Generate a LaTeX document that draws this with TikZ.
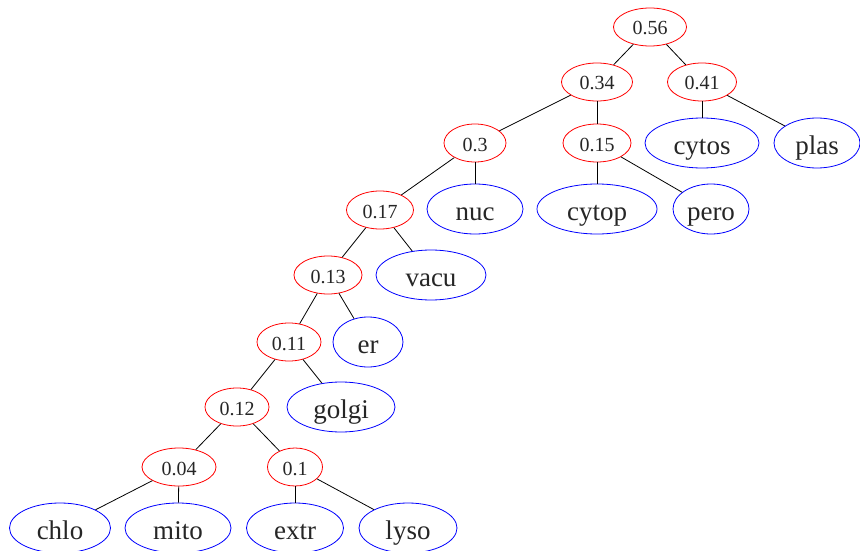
\documentclass[tikz,border=0pt]{standalone}
\usepackage{fontspec}
\setmainfont{Liberation Serif}
\usetikzlibrary{shapes.geometric}
\begin{document}
\begin{tikzpicture}[x=1pt,y=-1pt,
  inner/.style={ellipse,draw=red,line width=0.8pt,inner sep=0pt,minimum height=38pt,text height=16pt,text depth=0pt,font=\fontsize{20}{22}\selectfont,text=black!85},
  leaf/.style={ellipse,draw=blue,line width=0.8pt,inner sep=0pt,minimum height=50pt,text height=22pt,text depth=0pt,font=\fontsize{27}{29}\selectfont,text=black!85},
  edge/.style={draw=black,line width=0.8pt}]
\useasboundingbox (0,0) rectangle (860,551);
\node[inner,minimum width=73pt] (n056) at (650,27) {0.56};
\node[inner,minimum width=71pt] (n034) at (597,82) {0.34};
\node[inner,minimum width=69pt] (n041) at (702,82) {0.41};
\node[inner,minimum width=62pt] (n03) at (475,143) {0.3};
\node[inner,minimum width=68pt] (n015) at (597,143) {0.15};
\node[leaf,minimum width=114pt] (cytos) at (702,143) {cytos};
\node[leaf,minimum width=86pt] (plas) at (817,143) {plas};
\node[inner,minimum width=67pt] (n017) at (380,210) {0.17};
\node[leaf,minimum width=96pt] (nuc) at (475,209) {nuc};
\node[leaf,minimum width=120pt] (cytop) at (597,209) {cytop};
\node[leaf,minimum width=76pt] (pero) at (711,209) {pero};
\node[inner,minimum width=68pt] (n013) at (328,275) {0.13};
\node[leaf,minimum width=110pt] (vacu) at (431,275) {vacu};
\node[inner,minimum width=64pt] (n011) at (289,342) {0.11};
\node[leaf,minimum width=70pt] (er) at (368,342) {er};
\node[inner,minimum width=64pt] (n012) at (237,407) {0.12};
\node[leaf,minimum width=108pt] (golgi) at (341,407) {golgi};
\node[inner,minimum width=74pt] (n004) at (179,467) {0.04};
\node[inner,minimum width=55pt] (n01) at (295,467) {0.1};
\node[leaf,minimum width=101pt] (chlo) at (60,528) {chlo};
\node[leaf,minimum width=106pt] (mito) at (178,528) {mito};
\node[leaf,minimum width=97pt] (extr) at (295,528) {extr};
\node[leaf,minimum width=98pt] (lyso) at (408,528) {lyso};
\draw[edge] (n056) -- (n034);
\draw[edge] (n056) -- (n041);
\draw[edge] (n034) -- (n03);
\draw[edge] (n034) -- (n015);
\draw[edge] (n041) -- (cytos);
\draw[edge] (n041) -- (plas);
\draw[edge] (n03) -- (n017);
\draw[edge] (n03) -- (nuc);
\draw[edge] (n015) -- (cytop);
\draw[edge] (n015) -- (pero);
\draw[edge] (n017) -- (n013);
\draw[edge] (n017) -- (vacu);
\draw[edge] (n013) -- (n011);
\draw[edge] (n013) -- (er);
\draw[edge] (n011) -- (n012);
\draw[edge] (n011) -- (golgi);
\draw[edge] (n012) -- (n004);
\draw[edge] (n012) -- (n01);
\draw[edge] (n004) -- (chlo);
\draw[edge] (n004) -- (mito);
\draw[edge] (n01) -- (extr);
\draw[edge] (n01) -- (lyso);
\end{tikzpicture}
\end{document}
